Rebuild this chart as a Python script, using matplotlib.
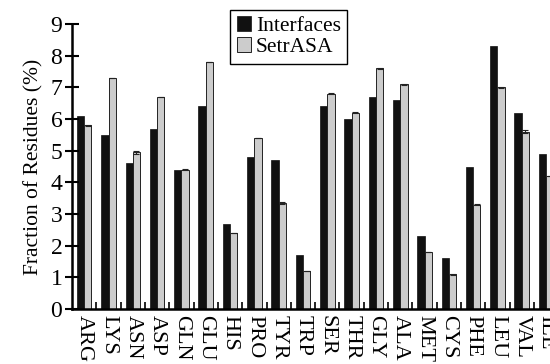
import matplotlib
matplotlib.use("Agg")
import matplotlib.pyplot as plt
import numpy as np

plt.rcParams['font.family'] = ['Liberation Serif', 'DejaVu Serif']

residues = ['ARG', 'LYS', 'ASN', 'ASP', 'GLN', 'GLU', 'HIS', 'PRO', 'TYR', 'TRP',
            'SER', 'THR', 'GLY', 'ALA', 'MET', 'CYS', 'PHE', 'LEU', 'VAL', 'ILE']
interfaces = [6.1, 5.5, 4.6, 5.7, 4.4, 6.4, 2.7, 4.8, 4.7, 1.7,
              6.4, 6.0, 6.7, 6.6, 2.3, 1.6, 4.5, 8.3, 6.2, 4.9]
setrasa = [5.8, 7.3, 4.95, 6.7, 4.4, 7.8, 2.4, 5.4, 3.35, 1.2,
           6.8, 6.2, 7.6, 7.1, 1.8, 1.1, 3.3, 7.0, 5.6, 4.2]
setrasa_err = [0.01, 0.01, 0.05, 0.01, 0.01, 0.01, 0.01, 0.01, 0.04, 0.01,
               0.01, 0.01, 0.01, 0.01, 0.01, 0.01, 0.01, 0.01, 0.04, 0.01]

x = np.arange(len(residues))
w = 0.3

fig = plt.figure(figsize=(5.5, 3.64), dpi=100)
ax = fig.add_axes([0.131, 0.151, 0.884, 0.783])

ax.bar(x - w / 2, interfaces, w, color='#111111', edgecolor='#111111',
       linewidth=0.5, label='Interfaces')
ax.bar(x + w / 2, setrasa, w, color='#cccccc', edgecolor='#222222',
       linewidth=0.7, yerr=setrasa_err, capsize=2.5,
       error_kw=dict(elinewidth=0.8, capthick=0.8, ecolor='#222222'),
       label='SetrASA')

ax.set_xlim(-0.5, len(residues) - 0.5)
ax.set_ylim(0, 9)
ax.set_yticks(range(10))
ax.tick_params(axis='y', direction='inout', length=10, width=1.5, labelsize=17, pad=2)

# group boundaries as small inward ticks, names centred under each pair
ax.set_xticks(np.arange(len(residues)) + 0.5)
ax.set_xticklabels([])
ax.tick_params(axis='x', which='major', direction='in', length=5, width=1.2)
ax.set_xticks(x, minor=True)
ax.set_xticklabels(residues, minor=True, rotation=270, fontsize=16)
ax.tick_params(axis='x', which='minor', length=0, pad=4)

for s in ['top', 'right']:
    ax.spines[s].set_visible(False)
ax.spines['left'].set_linewidth(1.8)
ax.spines['bottom'].set_linewidth(1.8)

ax.set_ylabel('Fraction of Residues (%)', fontsize=15.5, labelpad=5)

leg = ax.legend(loc='upper left', bbox_to_anchor=(0.325, 1.05), fontsize=15.5,
                frameon=True, fancybox=False, edgecolor='black', framealpha=1,
                handlelength=0.65, handleheight=0.7, handletextpad=0.25,
                borderpad=0.3, labelspacing=0.05, borderaxespad=0)
leg.get_frame().set_linewidth(1.0)

fig.savefig('out.png', dpi=100)
